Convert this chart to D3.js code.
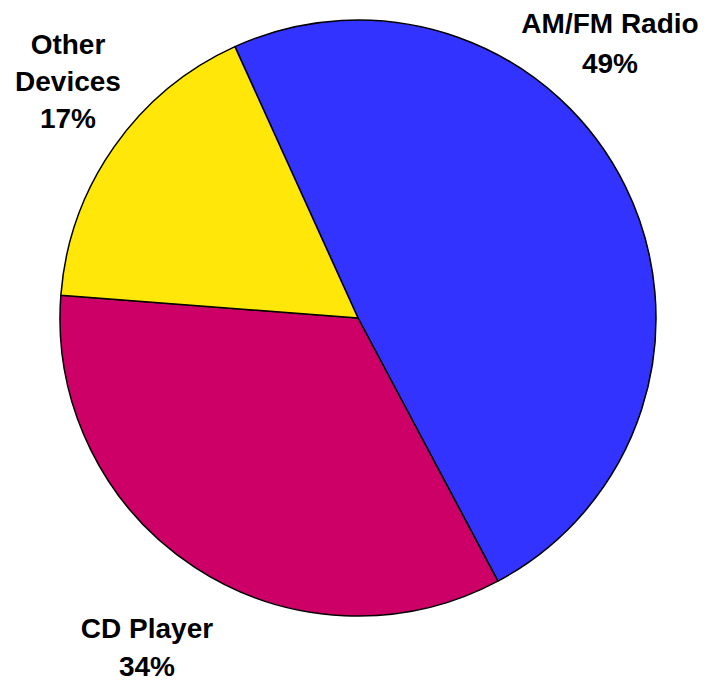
<!DOCTYPE html>
<html>
<head>
<meta charset="utf-8">
<script src="https://cdn.jsdelivr.net/npm/d3@7/dist/d3.min.js"></script>
<style>
  html, body { margin: 0; padding: 0; background: #ffffff; }
  svg { display: block; }
  text { font-family: "Liberation Sans", Arial, sans-serif; font-weight: bold; fill: #000; }
</style>
</head>
<body>
<svg id="chart" width="714" height="680"></svg>
<script>
const categories = ["AM/FM Radio", "CD Player", "Other Devices"];
const values = [49, 34, 17];
const labelLines = [["AM/FM Radio", "49%"], ["CD Player", "34%"], ["Other", "Devices", "17%"]];
const colors = ["#3333FF", "#CC0066", "#FFE70A"];

const width = 714, height = 680;
const cx = 358, cy = 318, radius = 298;
const startDeg = -24.4;

const svg = d3.select("#chart");
const g = svg.append("g").attr("transform", `translate(${cx},${cy})`);

const data = categories.map((c, i) => ({ name: c, value: values[i], color: colors[i], lines: labelLines[i] }));

const pie = d3.pie()
  .sort(null)
  .value(d => d.value)
  .startAngle(startDeg * Math.PI / 180)
  .endAngle(startDeg * Math.PI / 180 + 2 * Math.PI);

const arc = d3.arc().innerRadius(0).outerRadius(radius);

g.selectAll("path.slice")
  .data(pie(data))
  .enter().append("path")
  .attr("class", "slice")
  .attr("d", arc)
  .attr("fill", d => d.data.color)
  .attr("stroke", "#000")
  .attr("stroke-width", 1.5)
  .attr("stroke-linejoin", "round");

// label anchor positions (absolute page coords)
const labelPos = [
  { x: 610, y: 33, lh: 40 },
  { x: 147, y: 638, lh: 38 },
  { x: 68, y: 54, lh: 37 }
];

const labels = svg.selectAll("g.label")
  .data(data)
  .enter().append("g")
  .attr("class", "label");

labels.each(function(d, i) {
  const p = labelPos[i];
  const t = d3.select(this).append("text")
    .attr("text-anchor", "middle")
    .attr("font-size", 28);
  d.lines.forEach((ln, j) => {
    t.append("tspan").attr("x", p.x).attr("y", p.y + j * p.lh).text(ln);
  });
});
</script>
</body>
</html>
